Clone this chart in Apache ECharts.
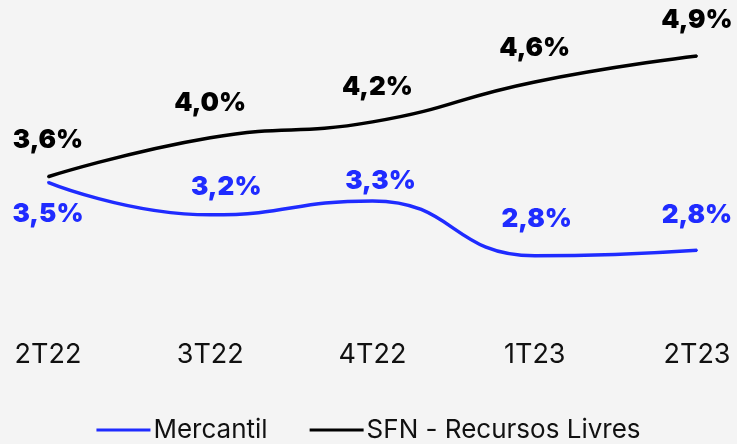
<!DOCTYPE html>
<html><head><meta charset="utf-8">
<script src="https://cdn.jsdelivr.net/npm/echarts@6/dist/echarts.min.js"></script>
<style>html,body{margin:0;padding:0;background:#f4f4f4;}#c{width:737px;height:444px;}</style>
</head><body><div id="c"></div>
<script>
const categories = ['2T22','3T22','4T22','1T23','2T23'];
const mercantil = [3.54, 3.19, 3.34, 2.75, 2.81];
const mercantilLabels = ['3,5%','3,2%','3,3%','2,8%','2,8%'];
const sfn = [3.6, 4.02, 4.19, 4.62, 4.9];
const sfnLabels = ['3,6%','4,0%','4,2%','4,6%','4,9%'];
const seriesNames = ['Mercantil', 'SFN - Recursos Livres'];

const FONT = 'Inter, Roboto, sans-serif';
const blueLabelCfg = [
  {position:'bottom', distance:18, offset:[0,0]},
  {position:'top', distance:14, offset:[16,0]},
  {position:'top', distance:6, offset:[8,0]},
  {position:'top', distance:23, offset:[2,0]},
  {position:'top', distance:21, offset:[0,0]}
];
const blackLabelCfg = [
  {distance:23, offset:[0,0]},
  {distance:21, offset:[0,0]},
  {distance:21, offset:[5,0]},
  {distance:20, offset:[0,0]},
  {distance:22, offset:[0,0]}
];

const chart = echarts.init(document.getElementById('c'));
chart.setOption({
  backgroundColor: '#f4f4f4',
  animation: false,
  grid: {left: 48, right: 40, top: 28, height: 251},
  legend: {
    bottom: -4, left: 'center',
    icon: 'rect', itemWidth: 54, itemHeight: 3, itemGap: 42,
    textStyle: {fontFamily: FONT, fontSize: 26, color: '#111', padding: [0,0,0,-2]},
    data: seriesNames
  },
  xAxis: {
    type: 'category', data: categories, boundaryGap: false,
    axisLine: {show: false}, axisTick: {show: false},
    axisLabel: {margin: 62, fontFamily: FONT, fontSize: 27, color: '#111'}
  },
  yAxis: {type: 'value', min: 2.5, max: 5.2, show: false, splitLine: {show: false}},
  series: [
    {
      name: seriesNames[0], type: 'line', smooth: 0.5, symbol: 'circle', symbolSize: 2, showSymbol: true,
      lineStyle: {color: '#1f2bff', width: 3.5}, itemStyle: {color: '#1f2bff'},
      data: mercantil.map((v, i) => ({
        value: v,
        label: {show: true, position: blueLabelCfg[i].position, distance: blueLabelCfg[i].distance,
          offset: blueLabelCfg[i].offset, formatter: mercantilLabels[i],
          fontFamily: FONT, fontSize: 26, fontWeight: 900, color: '#1f2bff'}
      }))
    },
    {
      name: seriesNames[1], type: 'line', smooth: 0.5, symbol: 'circle', symbolSize: 2, showSymbol: true,
      lineStyle: {color: '#000', width: 3.5}, itemStyle: {color: '#000'},
      data: sfn.map((v, i) => ({
        value: v,
        label: {show: true, position: 'top', distance: blackLabelCfg[i].distance,
          offset: blackLabelCfg[i].offset, formatter: sfnLabels[i],
          fontFamily: FONT, fontSize: 26, fontWeight: 900, color: '#000'}
      }))
    }
  ]
});
</script></body></html>
